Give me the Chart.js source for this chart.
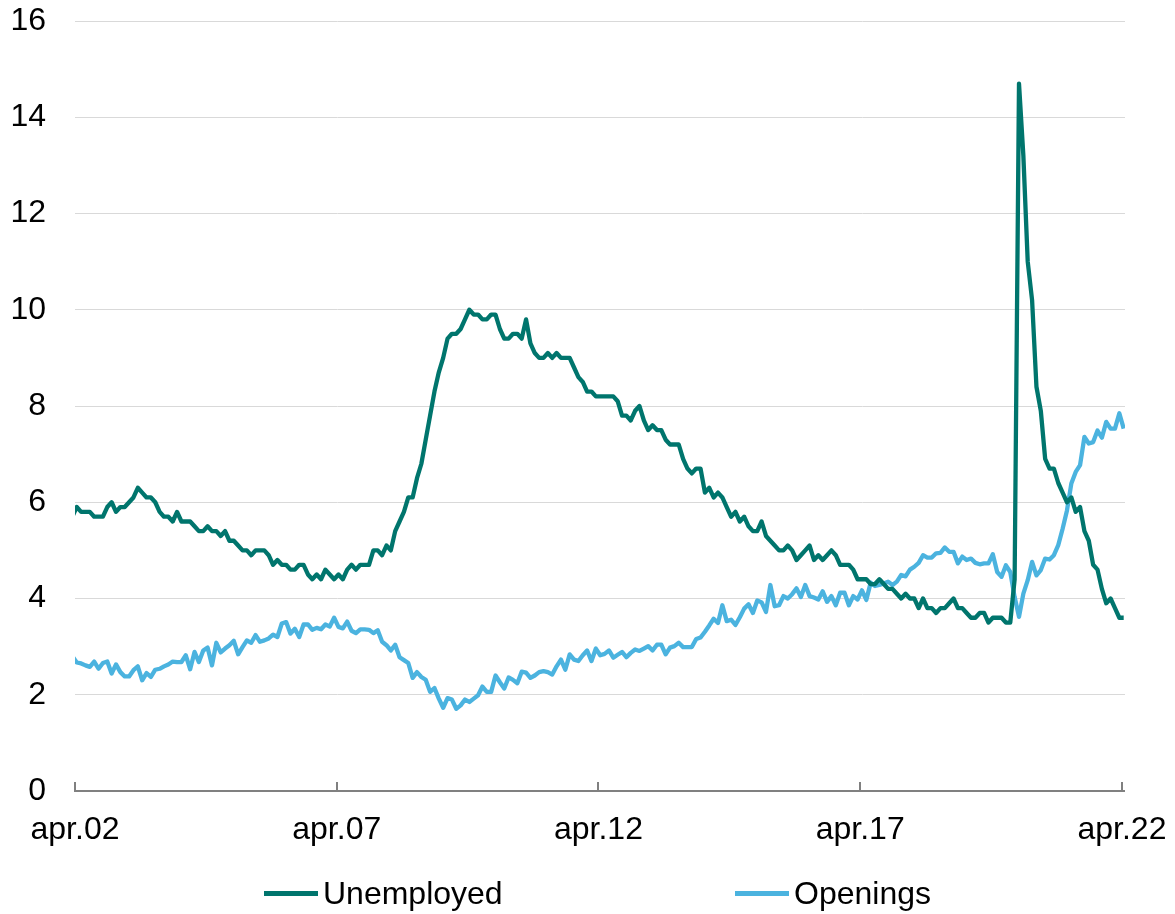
<!DOCTYPE html>
<html>
<head>
<meta charset="utf-8">
<script src="https://cdn.jsdelivr.net/npm/chart.js@4.4.1/dist/chart.umd.min.js"></script>
<style>
  html, body { margin: 0; padding: 0; background: #fff; }
  #wrap { position: relative; width: 1175px; height: 914px; }
  #legend { position: absolute; left: 0; top: 872px; width: 1175px; height: 42px;
    font-family: "Liberation Sans", Arial, sans-serif; font-size: 32px; color: #000; }
  .item { position: absolute; top: 0; display: flex; align-items: center; height: 42px; white-space: nowrap; }
  .swatch { width: 54px; height: 5px; margin-right: 5px; }
</style>
</head>
<body>
<div id="wrap">
  <canvas id="chart" width="1175" height="914"></canvas>
  <div id="legend"></div>
</div>
<script>
// monthly series, Mar 2002 .. Apr 2022 (the axis starts at apr.02, so the first point is clipped)
const tickLabels = ["apr.02", "apr.07", "apr.12", "apr.17", "apr.22"];
const tickMonths = [0, 60, 120, 180, 240];   // months after apr.02

const unemployed = [
  5.7, 5.9, 5.8, 5.8, 5.8, 5.7, 5.7, 5.7, 5.9, 6.0,
  5.8, 5.9, 5.9, 6.0, 6.1, 6.3, 6.2, 6.1, 6.1, 6.0, 5.8, 5.7,
  5.7, 5.6, 5.8, 5.6, 5.6, 5.6, 5.5, 5.4, 5.4, 5.5, 5.4, 5.4,
  5.3, 5.4, 5.2, 5.2, 5.1, 5.0, 5.0, 4.9, 5.0, 5.0, 5.0, 4.9,
  4.7, 4.8, 4.7, 4.7, 4.6, 4.6, 4.7, 4.7, 4.5, 4.4, 4.5, 4.4,
  4.6, 4.5, 4.4, 4.5, 4.4, 4.6, 4.7, 4.6, 4.7, 4.7, 4.7, 5.0,
  5.0, 4.9, 5.1, 5.0, 5.4, 5.6, 5.8, 6.1, 6.1, 6.5, 6.8, 7.3,
  7.8, 8.3, 8.7, 9.0, 9.4, 9.5, 9.5, 9.6, 9.8, 10.0, 9.9, 9.9,
  9.8, 9.8, 9.9, 9.9, 9.6, 9.4, 9.4, 9.5, 9.5, 9.4, 9.8, 9.3,
  9.1, 9.0, 9.0, 9.1, 9.0, 9.1, 9.0, 9.0, 9.0, 8.8, 8.6, 8.5,
  8.3, 8.3, 8.2, 8.2, 8.2, 8.2, 8.2, 8.1, 7.8, 7.8, 7.7, 7.9,
  8.0, 7.7, 7.5, 7.6, 7.5, 7.5, 7.3, 7.2, 7.2, 7.2, 6.9, 6.7,
  6.6, 6.7, 6.7, 6.2, 6.3, 6.1, 6.2, 6.1, 5.9, 5.7, 5.8, 5.6,
  5.7, 5.5, 5.4, 5.4, 5.6, 5.3, 5.2, 5.1, 5.0, 5.0, 5.1, 5.0,
  4.8, 4.9, 5.0, 5.1, 4.8, 4.9, 4.8, 4.9, 5.0, 4.9, 4.7, 4.7,
  4.7, 4.6, 4.4, 4.4, 4.4, 4.3, 4.3, 4.4, 4.3, 4.2, 4.2, 4.1,
  4.0, 4.1, 4.0, 4.0, 3.8, 4.0, 3.8, 3.8, 3.7, 3.8, 3.8, 3.9,
  4.0, 3.8, 3.8, 3.7, 3.6, 3.6, 3.7, 3.7, 3.5, 3.6, 3.6, 3.6,
  3.5, 3.5, 4.4, 14.7, 13.2, 11.0, 10.2, 8.4, 7.9, 6.9, 6.7, 6.7,
  6.4, 6.2, 6.0, 6.1, 5.8, 5.9, 5.4, 5.2, 4.7, 4.6, 4.2, 3.9,
  4.0, 3.8, 3.6, 3.6
];

const openings = [
  2.80, 2.67, 2.65, 2.61, 2.58, 2.69, 2.54, 2.66, 2.69, 2.44,
  2.63, 2.47, 2.38, 2.38, 2.51, 2.59, 2.30, 2.45, 2.37, 2.52, 2.54, 2.59,
  2.63, 2.69, 2.68, 2.68, 2.82, 2.53, 2.89, 2.68, 2.92, 2.98, 2.61, 3.08,
  2.88, 2.96, 3.03, 3.12, 2.84, 2.99, 3.13, 3.08, 3.24, 3.10, 3.13, 3.17,
  3.25, 3.20, 3.48, 3.51, 3.27, 3.37, 3.20, 3.46, 3.46, 3.35, 3.39, 3.36,
  3.46, 3.42, 3.60, 3.41, 3.38, 3.52, 3.33, 3.28, 3.36, 3.36, 3.35, 3.28,
  3.34, 3.10, 3.03, 2.92, 3.04, 2.78, 2.72, 2.66, 2.35, 2.47, 2.37, 2.31,
  2.06, 2.14, 1.92, 1.73, 1.93, 1.90, 1.71, 1.78, 1.90, 1.85, 1.92, 1.99,
  2.17, 2.06, 2.06, 2.40, 2.26, 2.13, 2.36, 2.31, 2.24, 2.48, 2.46, 2.35,
  2.40, 2.47, 2.49, 2.47, 2.42, 2.59, 2.73, 2.52, 2.84, 2.73, 2.70, 2.82,
  2.92, 2.70, 2.96, 2.82, 2.85, 2.92, 2.77, 2.83, 2.89, 2.78, 2.87, 2.94,
  2.91, 2.96, 3.01, 2.92, 3.04, 3.04, 2.84, 2.98, 3.01, 3.08, 2.99, 2.99,
  2.99, 3.16, 3.19, 3.31, 3.44, 3.58, 3.49, 3.86, 3.53, 3.56, 3.45, 3.61,
  3.79, 3.88, 3.70, 3.96, 3.92, 3.72, 4.28, 3.84, 3.86, 4.05, 4.00, 4.09,
  4.21, 4.03, 4.28, 4.05, 4.02, 3.98, 4.15, 3.93, 4.05, 3.86, 4.12, 4.12,
  3.86, 4.05, 3.98, 4.17, 3.97, 4.33, 4.26, 4.28, 4.31, 4.35, 4.28, 4.35,
  4.49, 4.46, 4.60, 4.66, 4.74, 4.90, 4.85, 4.85, 4.94, 4.95, 5.06, 4.97,
  4.97, 4.73, 4.87, 4.80, 4.83, 4.74, 4.71, 4.73, 4.73, 4.92, 4.55, 4.45,
  4.69, 4.55, 4.03, 3.62, 4.10, 4.38, 4.76, 4.48, 4.59, 4.83, 4.81, 4.90,
  5.11, 5.45, 5.83, 6.39, 6.63, 6.77, 7.36, 7.22, 7.25, 7.49, 7.34, 7.67,
  7.53, 7.53, 7.85, 7.53
];

const seriesNames = ["Unemployed", "Openings"];
const seriesColors = ["#00756d", "#4bb3df"];

// values are plotted mid-month, a little right of the month's tick
const midMonth = 0.4;
const startOffset = -1; // Mar 2002 sits one month before apr.02
const toPoints = (arr) => arr.map((v, i) => ({ x: i + startOffset + midMonth, y: v }));

// Excel-style axis: grey baseline with tick marks pointing up into the plot
const insideTicks = {
  id: "insideTicks",
  afterDraw(chart) {
    const { ctx, chartArea, scales } = chart;
    ctx.save();
    ctx.strokeStyle = "#808080";
    ctx.lineWidth = 2;
    tickMonths.forEach((m) => {
      const px = Math.round(scales.x.getPixelForValue(m));
      ctx.beginPath();
      ctx.moveTo(px, chartArea.bottom);
      ctx.lineTo(px, chartArea.bottom - 9);
      ctx.stroke();
    });
    ctx.beginPath();
    ctx.moveTo(chartArea.left - 1, chartArea.bottom);
    ctx.lineTo(chartArea.right, chartArea.bottom);
    ctx.stroke();
    ctx.restore();
  }
};

const font = { family: "'Liberation Sans', Arial, sans-serif", size: 32 };

const chart = new Chart(document.getElementById("chart"), {
  type: "line",
  data: {
    datasets: [
      { label: seriesNames[0], data: toPoints(unemployed), borderColor: seriesColors[0], backgroundColor: seriesColors[0] },
      { label: seriesNames[1], data: toPoints(openings), borderColor: seriesColors[1], backgroundColor: seriesColors[1] }
    ]
  },
  options: {
    responsive: false,
    animation: false,
    layout: { padding: { top: 21, right: 50, bottom: 63, left: 0 } },
    elements: {
      line: { borderWidth: 4.3, tension: 0, borderJoinStyle: "round", borderCapStyle: "butt" },
      point: { radius: 0 }
    },
    plugins: { legend: { display: false }, tooltip: { enabled: false } },
    scales: {
      x: {
        type: "linear",
        min: 0,
        max: 240.7,
        border: { display: false },
        grid: { display: false, drawTicks: false },
        afterBuildTicks: (scale) => { scale.ticks = tickMonths.map((v) => ({ value: v })); },
        afterFit: (scale) => {
          scale.height = 60;
          scale.paddingLeft = 0;
          scale.paddingRight = 0;
        },
        ticks: {
          autoSkip: false,
          maxRotation: 0,
          padding: 20,
          color: "#000",
          font: font,
          callback: (v) => tickLabels[tickMonths.indexOf(v)]
        }
      },
      y: {
        min: 0,
        max: 16,
        border: { display: false },
        grid: {
          drawTicks: false,
          color: (c) => (c.tick.value === 0 ? "rgba(0,0,0,0)" : "#d9d9d9"),
          lineWidth: 1
        },
        afterFit: (scale) => {
          scale.width = 75;
          scale.paddingTop = 0;
          scale.paddingBottom = 0;
        },
        ticks: { stepSize: 2, padding: 29, color: "#000", font: font }
      }
    }
  },
  plugins: [insideTicks]
});

// legend built from the chart's datasets
const legend = document.getElementById("legend");
const legendLeft = [264, 735];
chart.data.datasets.forEach((ds, i) => {
  const item = document.createElement("div");
  item.className = "item";
  item.style.left = legendLeft[i] + "px";
  const sw = document.createElement("span");
  sw.className = "swatch";
  sw.style.background = ds.borderColor;
  const txt = document.createElement("span");
  txt.textContent = ds.label;
  item.appendChild(sw);
  item.appendChild(txt);
  legend.appendChild(item);
});
</script>
</body>
</html>
